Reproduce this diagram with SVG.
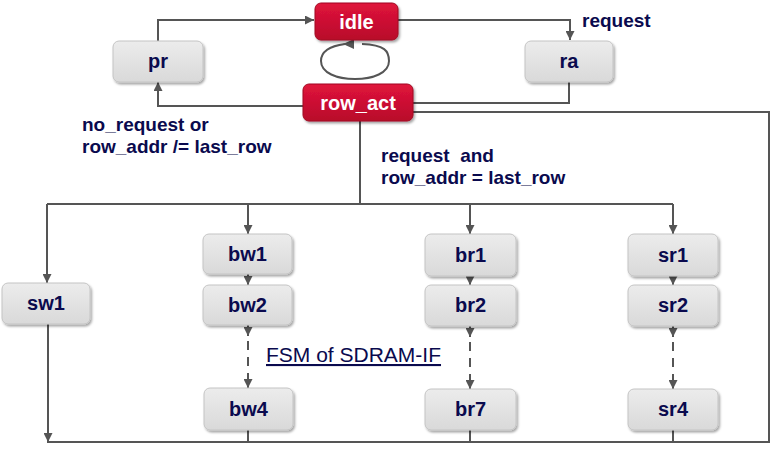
<svg xmlns="http://www.w3.org/2000/svg" width="777" height="450" viewBox="0 0 777 450">
<defs>
<linearGradient id="gG" x1="0" y1="0" x2="0" y2="1"><stop offset="0" stop-color="#ececec"/><stop offset="1" stop-color="#d9d9d9"/></linearGradient>
<linearGradient id="gR" x1="0" y1="0" x2="0" y2="1"><stop offset="0" stop-color="#e0143c"/><stop offset="1" stop-color="#b80a2a"/></linearGradient>
<filter id="sh" x="-10%" y="-10%" width="130%" height="140%"><feDropShadow dx="1.5" dy="2" stdDeviation="1.2" flood-color="#000" flood-opacity="0.35"/></filter>
<marker id="ah" viewBox="0 0 10 10" refX="10" refY="5" markerWidth="9" markerHeight="9" markerUnits="userSpaceOnUse" orient="auto"><path d="M0,0 L10,5 L0,10 z" fill="#555"/></marker>
</defs>
<style>
.g{fill:url(#gG);stroke:#c4c4c4;stroke-width:1;filter:url(#sh)}
.r{fill:url(#gR);stroke:#a00820;stroke-width:1;filter:url(#sh)}
.t{font-family:"Liberation Sans",Arial,sans-serif;font-weight:bold;font-size:20px;fill:#0a0a4e;text-anchor:middle}
.tw{font-family:"Liberation Sans",Arial,sans-serif;font-weight:bold;font-size:20px;fill:#ffffff;text-anchor:middle}
.lb{font-family:"Liberation Sans",Arial,sans-serif;font-weight:bold;font-size:19px;fill:#0a0a4e}
.c{fill:none;stroke:#555;stroke-width:2}
.d{fill:none;stroke:#555;stroke-width:2;stroke-dasharray:9,7}
</style>
<rect width="777" height="450" fill="#ffffff"/>
<g id="connectors">
<polyline class="c" points="158,41 158,20 314,20" marker-end="url(#ah)"/>
<polyline class="c" points="398,20 570,20 570,40" marker-end="url(#ah)"/>
<polyline class="c" points="303,106 158,106 158,82" marker-end="url(#ah)"/>
<polyline class="c" points="569,82 569,103 413,103"/>
<polyline class="c" points="413,112 769,112 769,442 47,442"/>
<polyline class="c" points="360,121 360,204"/>
<polyline class="c" points="47,204 673,204"/>
<polyline class="c" points="47,204 47,283" marker-end="url(#ah)"/>
<polyline class="c" points="248,204 248,234" marker-end="url(#ah)"/>
<polyline class="c" points="470,204 470,234" marker-end="url(#ah)"/>
<polyline class="c" points="673,204 673,234" marker-end="url(#ah)"/>
<polyline class="c" points="248,274 248,285" marker-end="url(#ah)"/>
<polyline class="c" points="470,276 470,285" marker-end="url(#ah)"/>
<polyline class="c" points="673,276 673,285" marker-end="url(#ah)"/>
<polyline class="c" points="248,325 248,336" marker-end="url(#ah)"/>
<polyline class="c" points="470,326 470,337" marker-end="url(#ah)"/>
<polyline class="c" points="673,326 673,337" marker-end="url(#ah)"/>
<line class="d" x1="248" y1="341" x2="248" y2="378"/>
<line class="d" x1="470" y1="342" x2="470" y2="379"/>
<line class="d" x1="673" y1="342" x2="673" y2="379"/>
<polyline class="c" points="248,378 248,388" marker-end="url(#ah)"/>
<polyline class="c" points="470,379 470,389" marker-end="url(#ah)"/>
<polyline class="c" points="673,379 673,389" marker-end="url(#ah)"/>
<polyline class="c" points="48,323 48,442" marker-end="url(#ah)"/>
<line class="c" x1="248" y1="430" x2="248" y2="442"/>
<line class="c" x1="470" y1="430" x2="470" y2="442"/>
<line class="c" x1="673" y1="430" x2="673" y2="442"/>
<path class="c" d="M362,44 C385,45 389,51 389,61 C389,73 373,79 355,79 C337,79 321,73 321,61 C321,51 330,46 345,44"/>
<path d="M343,44 L354,39 L354,49 z" fill="#555"/>
</g>
<g id="idle"><rect class="r" x="315" y="3" width="83" height="37" rx="6"/><text class="tw" x="356.5" y="29">idle</text></g>
<g id="row_act"><rect class="r" x="303" y="84" width="110" height="37" rx="6"/><text class="tw" x="358" y="110">row_act</text></g>
<g id="pr"><rect class="g" x="113" y="41" width="90" height="41" rx="6"/><text class="t" x="158" y="68">pr</text></g>
<g id="ra"><rect class="g" x="525" y="41" width="88" height="41" rx="6"/><text class="t" x="569" y="68">ra</text></g>
<g id="sw1"><rect class="g" x="2" y="283" width="88" height="41" rx="6"/><text class="t" x="46" y="310">sw1</text></g>
<g id="bw1"><rect class="g" x="203" y="234" width="89" height="40" rx="6"/><text class="t" x="247.5" y="261">bw1</text></g>
<g id="bw2"><rect class="g" x="203" y="285" width="89" height="40" rx="6"/><text class="t" x="247.5" y="312">bw2</text></g>
<g id="bw4"><rect class="g" x="204" y="388" width="89" height="42" rx="6"/><text class="t" x="248.5" y="416">bw4</text></g>
<g id="br1"><rect class="g" x="425" y="234" width="91" height="42" rx="6"/><text class="t" x="470.5" y="262">br1</text></g>
<g id="br2"><rect class="g" x="425" y="285" width="91" height="41" rx="6"/><text class="t" x="470.5" y="312">br2</text></g>
<g id="br7"><rect class="g" x="425" y="389" width="91" height="41" rx="6"/><text class="t" x="470.5" y="416">br7</text></g>
<g id="sr1"><rect class="g" x="628" y="234" width="90" height="42" rx="6"/><text class="t" x="673" y="262">sr1</text></g>
<g id="sr2"><rect class="g" x="628" y="285" width="90" height="41" rx="6"/><text class="t" x="673" y="312">sr2</text></g>
<g id="sr4"><rect class="g" x="628" y="389" width="90" height="41" rx="6"/><text class="t" x="673" y="416">sr4</text></g>
<g id="labels">
<text class="lb" x="582" y="27">request</text>
<text class="lb" x="82" y="131">no_request or</text>
<text class="lb" x="82" y="153">row_addr /= last_row</text>
<text class="lb" x="381" y="162" xml:space="preserve">request  and</text>
<text class="lb" x="381" y="184">row_addr = last_row</text>
<text x="266" y="362" font-family="'Liberation Sans',Arial,sans-serif" font-size="21" fill="#0a0a4e" text-decoration="underline">FSM of SDRAM-IF</text>
</g>
</svg>
